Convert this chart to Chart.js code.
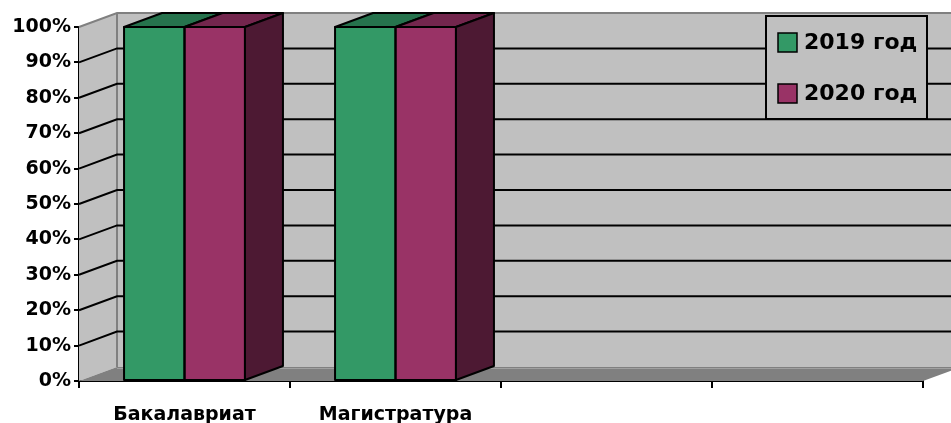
<!DOCTYPE html>
<html>
<head>
<meta charset="utf-8">
<script src="https://cdn.jsdelivr.net/npm/chart.js@4"></script>
<style>
  html, body { margin: 0; padding: 0; background: #fff; }
  #wrap { width: 951px; height: 423px; position: relative; }
</style>
</head>
<body>
<div id="wrap"><canvas id="chart"></canvas></div>
<script>
// categories (two empty slots on the right, as in the original)
const categories = ['Бакалавриат', 'Магистратура', '', ''];
const seriesNames = ['2019 год', '2020 год'];
const values2019 = [100, 100, null, null];
const values2020 = [100, 100, null, null];
const yTicks = [0, 10, 20, 30, 40, 50, 60, 70, 80, 90, 100];

const FONT = "'DejaVu Sans', sans-serif";
const DX = 38, DY = -14; // 3d depth offset

const frontColors = ['#339966', '#993366'];
const topColors = ['#26734d', '#73264d'];
const sideColor = '#4d1933';

// back wall, side wall, floor and gridlines
const wallPlugin = {
    id: 'walls',
    beforeDatasetsDraw(chart) {
        const { ctx, chartArea: a, scales: { y } } = chart;
        const W = chart.width;
        const yTop = y.getPixelForValue(100), yBot = y.getPixelForValue(0);
        ctx.save();
        // back wall
        ctx.fillStyle = '#c0c0c0';
        ctx.fillRect(a.left + DX, yTop + DY, W, yBot - yTop);
        // side wall
        ctx.beginPath();
        ctx.moveTo(a.left, yTop);
        ctx.lineTo(a.left + DX, yTop + DY);
        ctx.lineTo(a.left + DX, yBot + DY);
        ctx.lineTo(a.left, yBot);
        ctx.closePath();
        ctx.fill();
        // floor
        ctx.fillStyle = '#808080';
        ctx.beginPath();
        ctx.moveTo(a.left, yBot);
        ctx.lineTo(a.right, yBot);
        ctx.lineTo(a.right + DX, yBot + DY);
        ctx.lineTo(a.left + DX, yBot + DY);
        ctx.closePath();
        ctx.fill();
        ctx.strokeStyle = '#a0a0a0';
        ctx.lineWidth = 1;
        ctx.beginPath();
        ctx.moveTo(a.left + DX, yBot + DY + 1.5);
        ctx.lineTo(W, yBot + DY + 1.5);
        ctx.stroke();
        // wall edges
        ctx.strokeStyle = '#808080';
        ctx.lineWidth = 2;
        ctx.beginPath();
        ctx.moveTo(a.left, yTop);
        ctx.lineTo(a.left + DX, yTop + DY);
        ctx.lineTo(W, yTop + DY);
        ctx.moveTo(a.left + DX, yTop + DY);
        ctx.lineTo(a.left + DX, yBot + DY);
        ctx.stroke();
        // gridlines
        ctx.strokeStyle = '#000';
        ctx.lineWidth = 2;
        yTicks.forEach(v => {
            if (v === 0 || v === 100) return;
            const py = y.getPixelForValue(v);
            ctx.beginPath();
            ctx.moveTo(a.left, py);
            ctx.lineTo(a.left + DX, py + DY);
            ctx.lineTo(W, py + DY);
            ctx.stroke();
        });
        ctx.restore();
    },
    afterDatasetsDraw(chart) {
        const { ctx } = chart;
        ctx.save();
        ctx.strokeStyle = '#000';
        ctx.lineWidth = 2;
        ctx.lineJoin = 'round';
        chart.data.datasets.forEach((ds, i) => {
            chart.getDatasetMeta(i).data.forEach((bar, j) => {
                if (ds.data[j] == null) return;
                const p = bar.getProps(['x', 'y', 'base', 'width'], true);
                const x1 = p.x - p.width / 2, x2 = p.x + p.width / 2;
                // front outline
                ctx.strokeRect(x1, p.y, x2 - x1, p.base - p.y);
                // top face
                ctx.fillStyle = topColors[i];
                ctx.beginPath();
                ctx.moveTo(x1, p.y);
                ctx.lineTo(x1 + DX, p.y + DY);
                ctx.lineTo(x2 + DX, p.y + DY);
                ctx.lineTo(x2, p.y);
                ctx.closePath();
                ctx.fill();
                ctx.stroke();
                // side face on the last series only
                if (i === chart.data.datasets.length - 1) {
                    ctx.fillStyle = sideColor;
                    ctx.beginPath();
                    ctx.moveTo(x2, p.y);
                    ctx.lineTo(x2 + DX, p.y + DY);
                    ctx.lineTo(x2 + DX, p.base + DY);
                    ctx.lineTo(x2, p.base);
                    ctx.closePath();
                    ctx.fill();
                    ctx.stroke();
                }
            });
        });
        ctx.restore();
    },
    afterDraw(chart) {
        const { ctx } = chart;
        ctx.save();
        // legend box
        const bx = 766, by = 16, bw = 161, bh = 103;
        ctx.fillStyle = '#c0c0c0';
        ctx.fillRect(bx, by, bw, bh);
        ctx.strokeStyle = '#000';
        ctx.lineWidth = 2;
        ctx.strokeRect(bx, by, bw, bh);
        ctx.font = 'bold 22px ' + FONT;
        ctx.textBaseline = 'middle';
        chart.data.datasets.forEach((ds, i) => {
            const cy = 42 + i * 51;
            ctx.fillStyle = frontColors[i];
            ctx.fillRect(778, cy - 9, 19, 19);
            ctx.lineWidth = 1.5;
            ctx.strokeRect(778, cy - 9, 19, 19);
            ctx.fillStyle = '#000';
            ctx.fillText(ds.label, 804, cy + 1);
        });
        ctx.restore();
    }
};

new Chart(document.getElementById('chart'), {
    type: 'bar',
    data: {
        labels: categories,
        datasets: [
            { label: seriesNames[0], data: values2019, backgroundColor: frontColors[0] },
            { label: seriesNames[1], data: values2020, backgroundColor: frontColors[1] }
        ]
    },
    options: {
        responsive: true,
        maintainAspectRatio: false,
        animation: false,
        layout: { padding: { top: 27, right: 28, left: 0, bottom: 0 } },
        datasets: {
            bar: {
                borderWidth: 0,
                categoryPercentage: 0.573,
                barPercentage: 1
            }
        },
        plugins: {
            legend: { display: false },
            tooltip: { enabled: false }
        },
        scales: {
            x: {
                afterFit: s => { s.height = 42; },
                grid: {
                    offset: true,
                    drawOnChartArea: false,
                    drawTicks: true,
                    tickLength: 7,
                    color: '#000',
                    lineWidth: 2
                },
                border: { display: true, color: '#000', width: 2 },
                ticks: {
                    autoSkip: false,
                    maxRotation: 0,
                    padding: 16,
                    color: '#000',
                    font: { family: FONT, size: 19, weight: 'bold' }
                }
            },
            y: {
                min: 0,
                max: 100,
                afterFit: s => { s.width = 79; },
                afterBuildTicks: s => { s.ticks = yTicks.map(v => ({ value: v })); },
                grid: {
                    drawOnChartArea: false,
                    drawTicks: true,
                    tickLength: 5,
                    color: '#000',
                    lineWidth: 2
                },
                border: { display: true, color: '#000', width: 2 },
                ticks: {
                    padding: 3,
                    color: '#000',
                    font: { family: FONT, size: 19, weight: 'bold' },
                    callback: v => v + '%'
                }
            }
        }
    },
    plugins: [wallPlugin]
});
</script>
</body>
</html>
